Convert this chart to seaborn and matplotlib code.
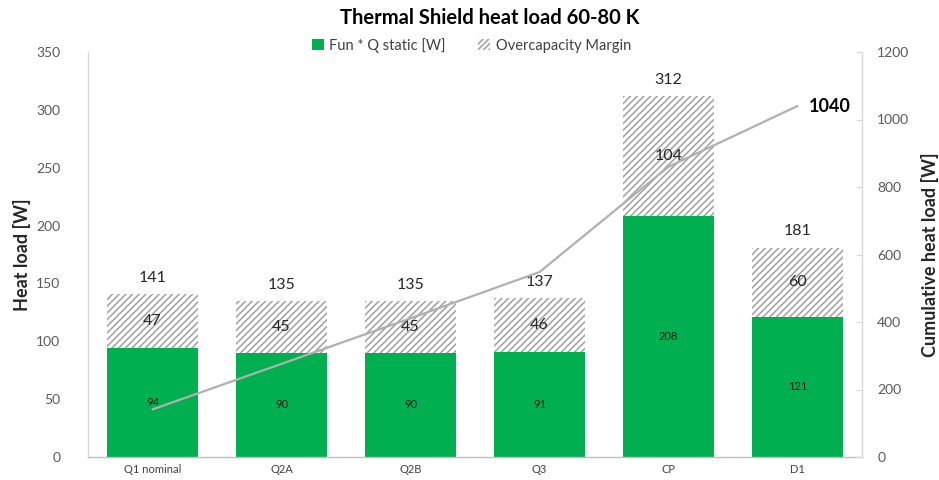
import matplotlib
matplotlib.use("Agg")
import matplotlib.pyplot as plt
import seaborn as sns
import pandas as pd
from matplotlib.patches import Patch

# Data
categories = ["Q1 nominal", "Q2A", "Q2B", "Q3", "CP", "D1"]
fun_static = [94, 90, 90, 91, 208, 121]
margin = [47, 45, 45, 46, 104, 60]
totals = [141, 135, 135, 137, 312, 181]
cumulative = [141, 276, 411, 548, 860, 1040]

GREEN = "#00b050"
HATCH_GRAY = "#a0a0a0"
LINE_GRAY = "#b0b0b0"
TICK_COLOR = "#595959"

sns.set_theme(style="white")
plt.rcParams["font.family"] = ["Lato", "DejaVu Sans"]
plt.rcParams["hatch.color"] = HATCH_GRAY
plt.rcParams["hatch.linewidth"] = 1.1

df = pd.DataFrame({"cat": categories, "fun": fun_static, "margin": margin,
                   "total": totals, "cum": cumulative})

fig = plt.figure(figsize=(9.39, 4.8), dpi=100)
ax = fig.add_axes([88 / 939, 1 - 457 / 480, (862 - 88) / 939, (457 - 52) / 480])

# Green base bars
sns.barplot(data=df, x="cat", y="fun", color=GREEN, width=0.71, ax=ax,
            saturation=1, linewidth=0, errorbar=None)
n_green = len(ax.patches)
# Hatched margin bars stacked on top
sns.barplot(data=df, x="cat", y="margin", bottom=df["fun"], color="white",
            width=0.71, ax=ax, saturation=1, linewidth=0, errorbar=None)
for p in ax.patches[n_green:]:
    p.set_facecolor("white")
    p.set_edgecolor(HATCH_GRAY)
    p.set_linewidth(0)
    p.set_hatch("/////")

ax.set_ylim(0, 350)
ax.set_xlim(-0.5, len(categories) - 0.5)
ax.set_yticks(range(0, 351, 50))
ax.set_xlabel("")
ax.set_ylabel("Heat load [W]", fontsize=13, fontweight="bold",
              va="center", ha="center")
ax.yaxis.set_label_coords(-0.085, 0.5)
ax.tick_params(axis="y", labelsize=10, colors=TICK_COLOR, length=0, pad=20)
ax.tick_params(axis="x", labelsize=8, colors="#404040", length=0, pad=5)
for s in ["top", "right"]:
    ax.spines[s].set_visible(False)
ax.spines["left"].set_color("#d9d9d9")
ax.spines["bottom"].set_color("#bfbfbf")
ax.spines["left"].set_linewidth(1)
ax.spines["bottom"].set_linewidth(1)

# Value labels
for i, (f, m, t) in enumerate(zip(fun_static, margin, totals)):
    ax.text(i, f / 2, f"{f}", ha="center", va="center", fontsize=8, color="#1a1a1a")
    ax.text(i, f + m / 2, f"{m}", ha="center", va="center", fontsize=11.5, color="#262626")
    ax.text(i, t + 8, f"{t}", ha="center", va="bottom", fontsize=11.5, color="#262626")

# Cumulative line on secondary axis
ax2 = ax.twinx()
sns.lineplot(data=df, x="cat", y="cum", sort=False, color=LINE_GRAY,
             linewidth=1.6, ax=ax2)
ax2.set_ylim(0, 1200)
ax2.set_yticks(range(0, 1201, 200))
ax2.set_xlim(-0.5, len(categories) - 0.5)
ax2.set_ylabel("Cumulative heat load [W]", fontsize=13, fontweight="bold",
               va="center", ha="center")
ax2.yaxis.set_label_coords(1.088, 0.5)
ax2.set_xlabel("")
ax2.tick_params(axis="y", labelsize=10, colors=TICK_COLOR, length=4, width=0.8,
                direction="in", pad=11, color="#d9d9d9")
for s in ["top", "left", "bottom"]:
    ax2.spines[s].set_visible(False)
ax2.spines["right"].set_color("#d9d9d9")
ax2.spines["right"].set_linewidth(1)
ax2.text(len(categories) - 1 + 0.09, cumulative[-1], f"{cumulative[-1]}",
         ha="left", va="center", fontsize=13, fontweight="bold", color="black")

# Title and legend
fig.text(0.522, 0.962, "Thermal Shield heat load 60-80 K", ha="center", va="center",
         fontsize=14.5, fontweight="bold", color="black")
handles = [Patch(facecolor=GREEN, edgecolor=GREEN, linewidth=0),
           Patch(facecolor="white", edgecolor=HATCH_GRAY, hatch="//////", linewidth=0)]
fig.legend(handles, ["Fun * Q static [W]", "Overcapacity Margin"], loc="center",
           bbox_to_anchor=(0.502, 0.906), ncol=2, frameon=False, fontsize=10.5,
           handlelength=0.8, handleheight=0.8, handletextpad=0.4, columnspacing=2.2,
           labelcolor="#404040")

fig.savefig("out.png", dpi=100)
